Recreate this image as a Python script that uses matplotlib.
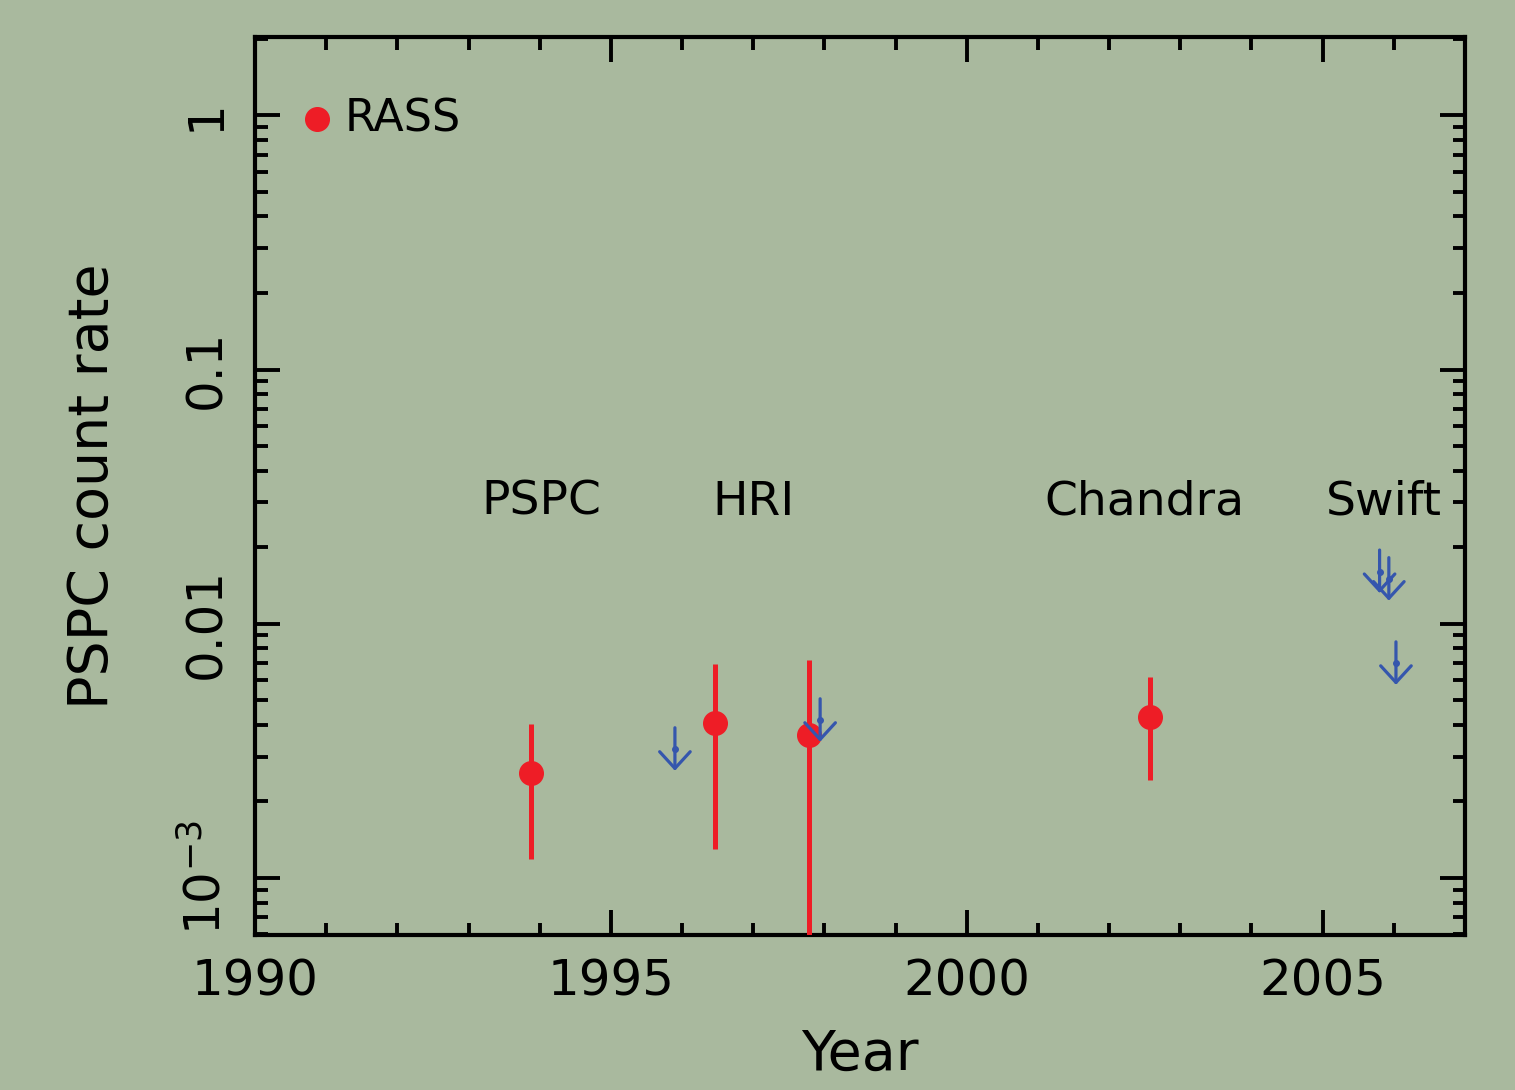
import matplotlib
matplotlib.use("Agg")
import matplotlib.pyplot as plt
from matplotlib.ticker import LogLocator, FixedLocator, NullFormatter, MultipleLocator
import numpy as np

# detections (red points with error bars)
det_year = [1993.88, 1996.46, 1997.78, 2002.58]
det_rate = [2.59e-3, 4.07e-3, 3.66e-3, 4.30e-3]
det_hi = [4.03e-3, 6.97e-3, 7.21e-3, 6.18e-3]
det_lo = [1.19e-3, 1.30e-3, 1.0e-4, 2.43e-3]

# upper limits (blue arrows), value = top of arrow
ul_year = [1995.90, 1997.94, 2005.80, 2005.93, 2006.03]
ul_rate = [3.90e-3, 5.07e-3, 1.95e-2, 1.82e-2, 8.49e-3]

# instrument labels
inst_names = ["PSPC", "HRI", "Chandra", "Swift"]
inst_year = [1994.02, 1997.0, 2002.5, 2005.86]
inst_rate = 0.030

ytick_vals = [1e-3, 1e-2, 1e-1, 1]
ytick_labels = [r"$10^{-3}$", "0.01", "0.1", "1"]

bg = "#A9B99E"
red = "#EE1D26"
blue = "#3556AD"

fig = plt.figure(figsize=(15.15, 10.9), dpi=100, facecolor=bg)
ax = fig.add_axes([0.1683, 0.1422, 0.7987, 0.8238])
ax.set_facecolor("none")

ax.set_yscale("log")
ax.set_xlim(1990, 2007)
ax.set_ylim(5.97e-4, 2.03)

# red points
yerr = [np.array(det_rate) - np.array(det_lo), np.array(det_hi) - np.array(det_rate)]
ax.errorbar(det_year, det_rate, yerr=yerr, fmt="o", color=red, ms=17,
            elinewidth=3.6, capsize=0, clip_on=True, zorder=3)

# blue upper-limit arrows
for x, v in zip(ul_year, ul_rate):
    ax.annotate("", xy=(x, v / 1.476), xytext=(x, v),
                arrowprops=dict(arrowstyle="->,head_length=0.6,head_width=0.55",
                                color=blue, lw=2.3, mutation_scale=20,
                                shrinkA=0, shrinkB=0), zorder=4)
    ax.plot([x], [v / 1.215], "o", color=blue, ms=4, zorder=4)

for name, x in zip(inst_names, inst_year):
    ax.text(x, inst_rate, name, ha="center", va="center", fontsize=34)

# legend
ax.plot([0.051], [0.909], "o", color=red, ms=17, transform=ax.transAxes, clip_on=False)
ax.text(0.074, 0.909, "RASS", transform=ax.transAxes, ha="left", va="center", fontsize=32)

# ticks
ax.xaxis.set_major_locator(MultipleLocator(5))
ax.xaxis.set_minor_locator(MultipleLocator(1))
ax.yaxis.set_major_locator(FixedLocator(ytick_vals))
ax.set_yticklabels(ytick_labels)
ax.yaxis.set_minor_locator(LogLocator(base=10, subs=np.arange(2, 10), numticks=20))
ax.yaxis.set_minor_formatter(NullFormatter())

ax.tick_params(which="both", direction="in", top=True, right=True, width=2.8, color="black")
ax.tick_params(which="major", length=18)
ax.tick_params(which="minor", length=9)
ax.tick_params(axis="x", labelsize=36, pad=16)
ax.tick_params(axis="y", labelsize=36, pad=18, labelrotation=90)
for lab in ax.get_yticklabels():
    lab.set_va("center")

for s in ax.spines.values():
    s.set_linewidth(3)

ax.set_xlabel("Year", fontsize=40, labelpad=16)
ax.set_ylabel("PSPC count rate", fontsize=40, labelpad=44)

fig.savefig("out.png", dpi=100, facecolor=bg)
